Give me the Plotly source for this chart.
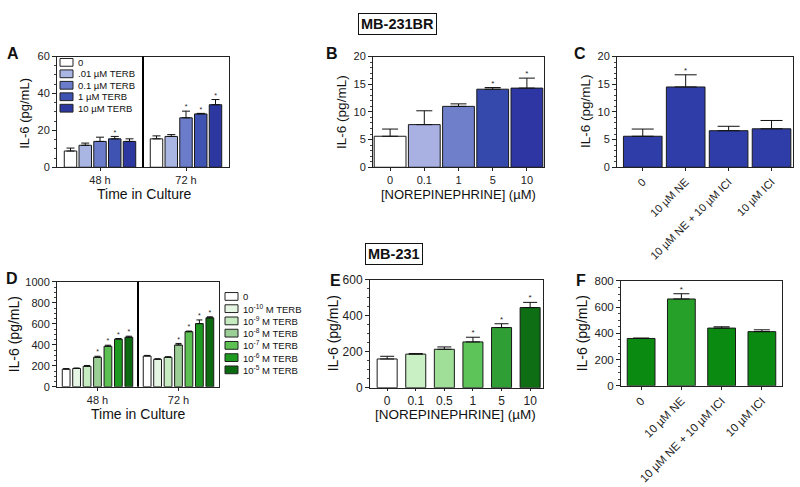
import plotly.graph_objects as go

W, H = 800, 487
FONT = "Liberation Sans, Arial, sans-serif"

# ---------------- DATA ----------------
# Panel A (MB-231BR, terbutaline, grouped by time)
a_groups = ["48 h", "72 h"]
a_series = ["0", ".01 \u00b5M TERB", "0.1 \u00b5M TERB", "1 \u00b5M TERB", "10 \u00b5M TERB"]
a_colors = ["#ffffff", "#a9b5e2", "#6b7dca", "#3e53b2", "#2c379f"]
a_vals = [[8.8, 15.4], [11.9, 16.7], [14.0, 26.8], [15.4, 28.9], [14.0, 33.9]]
a_errs = [[1.6, 1.6], [1.2, 1.0], [2.3, 3.6], [1.3, 0.3], [1.4, 2.8]]
a_sig = [[False, False], [False, False], [False, True], [True, True], [False, True]]

# Panel B (MB-231BR, norepinephrine dose)
b_cats = ["0", "0.1", "1", "5", "10"]
b_vals = [5.6, 7.7, 11.0, 14.1, 14.3]
b_errs = [1.3, 2.5, 0.45, 0.3, 1.8]
b_sig = [False, False, False, True, True]
b_colors = ["#ffffff", "#a9b1e3", "#6f7fc9", "#3549ad", "#2d36a2"]

# Panel C (MB-231BR, NE / ICI)
c_cats = ["0", "10 \u00b5M NE", "10 \u00b5M NE + 10 \u00b5M ICI", "10 \u00b5M ICI"]
c_vals = [5.6, 14.5, 6.6, 6.95]
c_errs = [1.3, 2.2, 0.8, 1.5]
c_sig = [False, True, False, False]
c_color = "#2e3da8"

# Panel D (MB-231, terbutaline, grouped by time)
d_groups = ["48 h", "72 h"]
d_series = ["0", "10<sup>-10</sup> M TERB", "10<sup>-9</sup> M TERB", "10<sup>-8</sup> M TERB",
            "10<sup>-7</sup> M TERB", "10<sup>-6</sup> M TERB", "10<sup>-5</sup> M TERB"]
d_colors = ["#ffffff", "#e6f6e4", "#c6ebc1", "#9ccf95", "#5cc152", "#1f9a20", "#0b6a10"]
d_vals = [[168, 293], [174, 262], [195, 281], [281, 398], [386, 525], [454, 602], [472, 657]]
d_errs = [[5, 6], [5, 5], [8, 5], [10, 15], [10, 6], [6, 35], [10, 10]]
d_sig = [[False, False], [False, False], [False, False], [True, True], [True, True], [True, True], [True, True]]

# Panel E (MB-231, norepinephrine dose)
e_cats = ["0", "0.1", "0.5", "1", "5", "10"]
e_vals = [160, 187, 214, 255, 335, 446]
e_errs = [15, 3, 13, 26, 21, 29]
e_sig = [False, False, False, True, True, True]
e_colors = ["#ffffff", "#c9efc4", "#9fdf97", "#5cc458", "#2f9e35", "#0d6e14"]

# Panel F (MB-231, NE / ICI)
f_cats = ["0", "10 \u00b5M NE", "10 \u00b5M NE + 10 \u00b5M ICI", "10 \u00b5M ICI"]
f_vals = [361, 662, 440, 413]
f_errs = [3, 40, 10, 14]
f_sig = [False, True, False, False]
f_colors = ["#0a8a10", "#27a02a", "#0a8a10", "#0a8a10"]

# ---------------- helpers ----------------
def px(x):
    return x / W

def py(y):
    return 1 - y / H

fig = go.Figure()


def add_stars(xs, tops, sig, axn, size=8):
    sx = [x for x, s in zip(xs, sig) if s]
    sy = [t for t, s in zip(tops, sig) if s]
    if sx:
        fig.add_trace(go.Scatter(x=sx, y=sy, mode="text", text=["*"] * len(sx),
                                 textposition="top center",
                                 textfont=dict(size=size, color="#222", family=FONT),
                                 xaxis="x" + axn, yaxis="y" + axn, showlegend=False,
                                 hoverinfo="skip", cliponaxis=False))


def bar_trace(xs, vals, errs, colors, width, axn, cap):
    fig.add_trace(go.Bar(x=xs, y=vals, width=width,
                         marker=dict(color=colors, line=dict(color="#1a1a1a", width=1)),
                         error_y=dict(type="data", symmetric=False, array=errs,
                                      arrayminus=[0] * len(errs), color="#111",
                                      thickness=1, width=cap),
                         xaxis="x" + axn, yaxis="y" + axn, showlegend=False,
                         hoverinfo="skip"))


def grouped(groups, series, colors, vals, errs, sig, slot, width, axn, cap):
    n = len(series)
    for i in range(n):
        xs = [g + (i - (n - 1) / 2) * slot for g in range(len(groups))]
        bar_trace(xs, vals[i], errs[i], colors[i], width, axn, cap)
        add_stars(xs, [v + e for v, e in zip(vals[i], errs[i])], sig[i], axn, size=7)


def simple(cats, vals, errs, colors, sig, width, axn, cap, star=8):
    xs = list(range(len(cats)))
    bar_trace(xs, vals, errs, colors, width, axn, cap)
    add_stars(xs, [v + e for v, e in zip(vals, errs)], sig, axn, size=star)


# Panel traces
grouped(a_groups, a_series, a_colors, a_vals, a_errs, a_sig, 0.1715, 0.145, "", 4)
simple(b_cats, b_vals, b_errs, b_colors, b_sig, 0.93, "2", 8)
simple(c_cats, c_vals, c_errs, [c_color] * len(c_cats), c_sig, 0.9, "3", 11)
grouped(d_groups, d_series, d_colors, d_vals, d_errs, d_sig, 0.129, 0.096, "4", 3)
simple(e_cats, e_vals, e_errs, e_colors, e_sig, 0.7, "5", 7)
simple(f_cats, f_vals, f_errs, f_colors, f_sig, 0.69, "6", 8)

# ---------------- axes ----------------
panels = {
    "": dict(xd=(57, 229), yd=(51, 165), xr=[-0.5, 1.5], yr=[0, 60], dt=20, mdt=5,
             tv=list(range(len(a_groups))), tt=a_groups, tf=11, ang=0, tl=3),
    "2": dict(xd=(373, 544), yd=(51, 165), xr=[-0.5, 4.5], yr=[0, 20], dt=5, mdt=1,
              tv=list(range(len(b_cats))), tt=b_cats, tf=11, ang=0, tl=3),
    "3": dict(xd=(617, 793), yd=(51, 165), xr=[-0.6, 3.5], yr=[0, 20], dt=5, mdt=1,
              tv=list(range(len(c_cats))), tt=c_cats, tf=11, ang=-45, tl=3),
    "4": dict(xd=(57, 219), yd=(283, 391), xr=[-0.5, 1.5], yr=[0, 1000], dt=200, mdt=50,
              tv=list(range(len(d_groups))), tt=d_groups, tf=11, ang=0, tl=3),
    "5": dict(xd=(370, 543), yd=(281, 392), xr=[-0.6, 5.45], yr=[0, 600], dt=200, mdt=50,
              tv=list(range(len(e_cats))), tt=e_cats, tf=12, ang=0, tl=2),
    "6": dict(xd=(621, 782), yd=(282, 390), xr=[-0.5, 3.5], yr=[0, 800], dt=200, mdt=50,
              tv=list(range(len(f_cats))), tt=f_cats, tf=11.5, ang=-45, tl=3),
}

layout = dict(width=W, height=H, margin=dict(l=0, r=0, t=0, b=0),
              paper_bgcolor="white", plot_bgcolor="white", barmode="overlay",
              font=dict(family=FONT, color="#222"), showlegend=False, hovermode=False)

for k, p in panels.items():
    xa = "xaxis" + k
    ya = "yaxis" + k
    layout[xa] = dict(domain=[px(p["xd"][0]), px(p["xd"][1])], range=p["xr"],
                      anchor="y" + k, showline=True, linecolor="#222", linewidth=1,
                      mirror=True, ticks="outside", ticklen=p["tl"], tickcolor="#222",
                      tickvals=p["tv"], ticktext=p["tt"], tickangle=p["ang"],
                      tickfont=dict(size=p["tf"], family=FONT, color="#222"),
                      showgrid=False, zeroline=False, fixedrange=True)
    layout[ya] = dict(domain=[py(p["yd"][1]), py(p["yd"][0])], range=p["yr"],
                      anchor="x" + k, showline=True, linecolor="#222", linewidth=1,
                      mirror=True, ticks="outside", ticklen=4, tickcolor="#222",
                      dtick=p["dt"], tick0=0,
                      minor=dict(dtick=p["mdt"], ticks="outside", ticklen=2, tickcolor="#444"),
                      tickfont=dict(size=p["tf"], family=FONT, color="#222"),
                      showgrid=False, zeroline=False, fixedrange=True)

fig.update_layout(**layout)

# dividers between time groups (panels A and D)
for axn in ["", "4"]:
    fig.add_shape(type="line", xref="x" + axn, yref=("y" + axn) + " domain",
                  x0=0.5, x1=0.5, y0=0, y1=1, line=dict(color="black", width=2))

# ---------------- annotations ----------------
ann = []

def text(x, y, s, size, bold=False, angle=0, xanchor="center", yanchor="middle", **kw):
    ann.append(dict(x=px(x), y=py(y), xref="paper", yref="paper", text=("<b>%s</b>" % s) if bold else s,
                    showarrow=False, textangle=angle, xanchor=xanchor, yanchor=yanchor,
                    font=dict(size=size, family=FONT, color="#111"), **kw))

# cell-line headers
text(397, 18, "MB-231BR", 14.5, bold=True, bordercolor="#111", borderwidth=1, borderpad=2)
text(394, 254, "MB-231", 14.5, bold=True, bordercolor="#111", borderwidth=1, borderpad=2)

# panel letters
for lab, x, y in [("A", 13, 48), ("B", 332, 48), ("C", 580, 48),
                  ("D", 12, 280), ("E", 335, 282), ("F", 581, 282)]:
    text(x, y, lab, 16, bold=True)

# y titles
ylab = "IL-6 (pg/mL)"
text(25, 110, ylab, 13, angle=-90)
text(342, 108, ylab, 13.5, angle=-90)
text(586, 107, ylab, 13.5, angle=-90)
text(14, 337, ylab, 14, angle=-90)
text(333, 336, ylab, 14, angle=-90)
text(582, 336, ylab, 14, angle=-90)

# x titles
text(144, 193, "Time in Culture", 14)
text(458, 193, "[NOREPINEPHRINE] (\u00b5M)", 13)
text(138, 419, "Time in Culture", 14)
text(456, 420, "[NOREPINEPHRINE] (\u00b5M)", 13.5)

fig.update_layout(annotations=ann)

# ---------------- manual legends ----------------
def legend(labels, colors, x0, y0, step, bw, bh, fs):
    for i, (lab, col) in enumerate(zip(labels, colors)):
        yc = y0 + i * step
        fig.add_shape(type="rect", xref="paper", yref="paper",
                      x0=px(x0), x1=px(x0 + bw), y0=py(yc + bh / 2), y1=py(yc - bh / 2),
                      fillcolor=col, line=dict(color="#222", width=1))
        fig.add_annotation(x=px(x0 + bw + 3), y=py(yc), xref="paper", yref="paper",
                           text=lab, showarrow=False, xanchor="left", yanchor="middle",
                           font=dict(size=fs, family=FONT, color="#111"))

legend(a_series, a_colors, 60, 57, 11.8, 13, 8, 9.5)
legend(d_series, d_colors, 225, 298, 12.6, 13, 8, 9.5)

fig.write_html("out.html", config={"displayModeBar": False, "staticPlot": True},
               post_script="document.body.style.margin='0';document.body.style.overflow='hidden';")
